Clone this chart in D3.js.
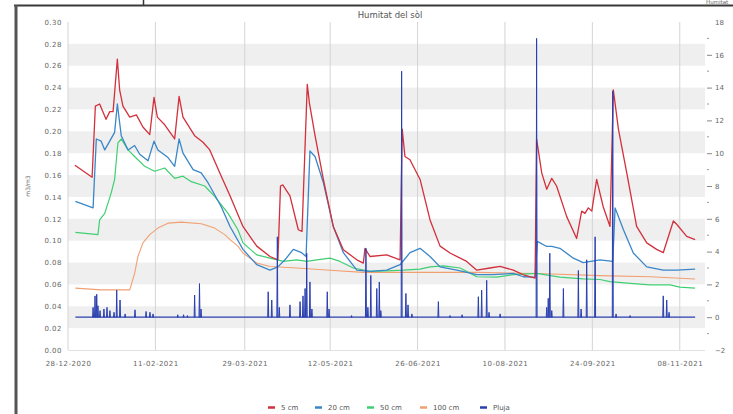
<!DOCTYPE html>
<html>
<head>
<meta charset="utf-8">
<script src="https://cdn.jsdelivr.net/npm/d3@7"></script>
<style>
  body { margin: 0; background: #fff; }
  svg text { font-family: "DejaVu Sans", sans-serif; }
</style>
</head>
<body>
<div id="chart"></div>
<script>
// sizes
var width = 733;
var height = 414;
var plotLeft = 68;
var plotRight = 705;
var plotTop = 22;
var plotBottom = 350;

// data
var xTicks = ["2020-12-28", "2021-02-11", "2021-03-29", "2021-05-12", "2021-06-26", "2021-08-10", "2021-09-24", "2021-11-08"];
var yTicks = [0, 0.02, 0.04, 0.06, 0.08, 0.10, 0.12, 0.14, 0.16, 0.18, 0.20, 0.22, 0.24, 0.26, 0.28, 0.30];
var rainTicks = [-2, 0, 2, 4, 6, 8, 10, 12, 14, 16, 18];

var cm5 = [
  ["2020-12-31 14", 0.169], ["2021-01-09 10", 0.158], ["2021-01-11 02", 0.223], ["2021-01-13 07", 0.225],
  ["2021-01-16 14", 0.211], ["2021-01-18 12", 0.218], ["2021-01-20 05", 0.218], ["2021-01-22 10", 0.266],
  ["2021-01-23 14", 0.238], ["2021-01-25 07", 0.223], ["2021-01-28 19", 0.213], ["2021-02-01 05", 0.215],
  ["2021-02-04 14", 0.204], ["2021-02-08 02", 0.197], ["2021-02-10 07", 0.231], ["2021-02-12 00", 0.213],
  ["2021-02-15 19", 0.206], ["2021-02-20 22", 0.193], ["2021-02-23 05", 0.232], ["2021-02-25 05", 0.213],
  ["2021-03-03 05", 0.196], ["2021-03-07 12", 0.190], ["2021-03-11 00", 0.183], ["2021-03-16 22", 0.159],
  ["2021-03-21 10", 0.141], ["2021-03-28 02", 0.113], ["2021-04-04 05", 0.095], ["2021-04-11 00", 0.0855],
  ["2021-04-15 02", 0.0825], ["2021-04-16 10", 0.150], ["2021-04-17 14", 0.151], ["2021-04-21 07", 0.141],
  ["2021-04-25 14", 0.110], ["2021-04-27 12", 0.1085], ["2021-04-30 05", 0.243], ["2021-05-01 07", 0.226],
  ["2021-05-04 05", 0.196], ["2021-05-08 12", 0.156], ["2021-05-13 14", 0.113], ["2021-05-18 19", 0.0917],
  ["2021-05-25 17", 0.0825], ["2021-05-29 02", 0.0795], ["2021-05-29 22", 0.093], ["2021-06-01 12", 0.0855],
  ["2021-06-10 02", 0.087], ["2021-06-17 00", 0.0825], ["2021-06-18 02", 0.202], ["2021-06-19 12", 0.177],
  ["2021-06-22 02", 0.174], ["2021-06-27 07", 0.156], ["2021-07-02 10", 0.119], ["2021-07-07 14", 0.095],
  ["2021-07-12 17", 0.0887], ["2021-07-21 07", 0.081], ["2021-07-26 12", 0.073], ["2021-08-02 07", 0.075],
  ["2021-08-07 12", 0.0764], ["2021-08-14 07", 0.073], ["2021-08-19 12", 0.0688], ["2021-08-25 12", 0.0657],
  ["2021-08-26 07", 0.193], ["2021-08-28 22", 0.162], ["2021-08-31 12", 0.147], ["2021-09-03 02", 0.157],
  ["2021-09-05 14", 0.150], ["2021-09-10 19", 0.122], ["2021-09-15 22", 0.102], ["2021-09-18 12", 0.127],
  ["2021-09-20 05", 0.125], ["2021-09-21 22", 0.130], ["2021-09-23 17", 0.127], ["2021-09-26 05", 0.156],
  ["2021-09-29 14", 0.131], ["2021-10-03 02", 0.113], ["2021-10-04 19", 0.238], ["2021-10-07 10", 0.202],
  ["2021-10-11 17", 0.162], ["2021-10-16 19", 0.113], ["2021-10-22 00", 0.098], ["2021-10-27 02", 0.092],
  ["2021-10-30 12", 0.089], ["2021-11-04 17", 0.118], ["2021-11-06 10", 0.115], ["2021-11-11 14", 0.104],
  ["2021-11-15 22", 0.101]
];

var cm20 = [
  ["2020-12-31 19", 0.136], ["2021-01-09 22", 0.130], ["2021-01-11 14", 0.193], ["2021-01-14 02", 0.191],
  ["2021-01-15 22", 0.183], ["2021-01-18 12", 0.191], ["2021-01-21 00", 0.199], ["2021-01-22 10", 0.225],
  ["2021-01-24 10", 0.196], ["2021-01-27 22", 0.183], ["2021-01-31 07", 0.187], ["2021-02-02 22", 0.179],
  ["2021-02-07 05", 0.173], ["2021-02-10 07", 0.191], ["2021-02-12 07", 0.183], ["2021-02-17 12", 0.176],
  ["2021-02-20 22", 0.168], ["2021-02-23 05", 0.193], ["2021-02-25 05", 0.180], ["2021-03-02 10", 0.165],
  ["2021-03-06 14", 0.162], ["2021-03-10 02", 0.153], ["2021-03-16 22", 0.131], ["2021-03-21 10", 0.113],
  ["2021-03-28 02", 0.092], ["2021-04-04 05", 0.078], ["2021-04-11 00", 0.073], ["2021-04-15 02", 0.076],
  ["2021-04-18 17", 0.0825], ["2021-04-23 00", 0.092], ["2021-04-27 07", 0.089], ["2021-04-29 14", 0.0855],
  ["2021-05-01 14", 0.182], ["2021-05-04 05", 0.177], ["2021-05-08 12", 0.153], ["2021-05-13 14", 0.113],
  ["2021-05-18 19", 0.089], ["2021-05-25 17", 0.073], ["2021-06-01 12", 0.072], ["2021-06-10 02", 0.073],
  ["2021-06-17 00", 0.078], ["2021-06-22 02", 0.089], ["2021-06-27 07", 0.093], ["2021-07-02 10", 0.0855],
  ["2021-07-07 14", 0.076], ["2021-07-16 05", 0.073], ["2021-07-26 12", 0.069], ["2021-08-04 00", 0.069],
  ["2021-08-14 07", 0.070], ["2021-08-19 12", 0.067], ["2021-08-25 12", 0.0667], ["2021-08-26 17", 0.0993],
  ["2021-08-31 12", 0.0947], ["2021-09-03 02", 0.0947], ["2021-09-07 07", 0.093], ["2021-09-14 05", 0.084],
  ["2021-09-19 07", 0.080], ["2021-09-27 22", 0.0825], ["2021-10-04 12", 0.081], ["2021-10-05 17", 0.130],
  ["2021-10-10 00", 0.110], ["2021-10-15 02", 0.0887], ["2021-10-22 00", 0.076], ["2021-10-30 12", 0.073],
  ["2021-11-06 10", 0.073], ["2021-11-15 22", 0.074]
];

var cm50 = [
  ["2020-12-31 19", 0.1076], ["2021-01-12 10", 0.1055], ["2021-01-13 07", 0.119], ["2021-01-15 22", 0.125],
  ["2021-01-19 07", 0.144], ["2021-01-21 00", 0.156], ["2021-01-22 17", 0.1895], ["2021-01-24 10", 0.193],
  ["2021-01-27 22", 0.183], ["2021-01-31 07", 0.177], ["2021-02-05 12", 0.168], ["2021-02-10 14", 0.1635],
  ["2021-02-15 19", 0.1665], ["2021-02-20 22", 0.157], ["2021-02-25 05", 0.159], ["2021-03-01 12", 0.154],
  ["2021-03-08 10", 0.150], ["2021-03-13 12", 0.1405], ["2021-03-20 10", 0.125], ["2021-03-25 12", 0.110],
  ["2021-03-28 02", 0.098], ["2021-04-04 05", 0.087], ["2021-04-11 00", 0.084], ["2021-04-17 22", 0.081],
  ["2021-04-24 19", 0.0825], ["2021-04-29 22", 0.081], ["2021-05-05 02", 0.0825], ["2021-05-11 22", 0.084],
  ["2021-05-17 02", 0.081], ["2021-05-23 22", 0.075], ["2021-06-01 12", 0.072], ["2021-06-10 02", 0.0724],
  ["2021-06-18 17", 0.073], ["2021-06-27 07", 0.074], ["2021-07-02 10", 0.076], ["2021-07-09 07", 0.077],
  ["2021-07-17 22", 0.075], ["2021-07-26 12", 0.067], ["2021-08-05 19", 0.0667], ["2021-08-14 07", 0.069],
  ["2021-08-26 07", 0.070], ["2021-09-07 07", 0.0667], ["2021-09-19 07", 0.065], ["2021-09-27 22", 0.0645],
  ["2021-10-03 02", 0.0626], ["2021-10-13 10", 0.061], ["2021-10-23 17", 0.0596], ["2021-11-03 00", 0.0596],
  ["2021-11-08 02", 0.0575], ["2021-11-15 22", 0.0566]
];

var cm100 = [
  ["2020-12-31 19", 0.0566], ["2021-01-14 02", 0.055], ["2021-01-28 19", 0.055], ["2021-01-31 07", 0.070],
  ["2021-02-02 00", 0.0855], ["2021-02-04 14", 0.098], ["2021-02-08 02", 0.1055], ["2021-02-12 07", 0.1115],
  ["2021-02-17 12", 0.116], ["2021-02-24 07", 0.117], ["2021-03-06 14", 0.1155], ["2021-03-13 12", 0.1115],
  ["2021-03-18 17", 0.1055], ["2021-03-21 10", 0.101], ["2021-03-25 12", 0.095], ["2021-03-28 02", 0.0887],
  ["2021-04-04 05", 0.0795], ["2021-04-11 00", 0.0764], ["2021-04-24 19", 0.075], ["2021-05-11 22", 0.073],
  ["2021-05-29 02", 0.071], ["2021-07-26 12", 0.071], ["2021-08-26 07", 0.070], ["2021-09-27 22", 0.068],
  ["2021-10-23 17", 0.067], ["2021-11-15 22", 0.065]
];

// rain events (mm, right axis)
var pluja = [
  ["2021-01-09 22", 0.6], ["2021-01-10 22", 1.3], ["2021-01-11 19", 1.4], ["2021-01-12 10", 0.7],
  ["2021-01-13 12", 0.4], ["2021-01-15 12", 0.5], ["2021-01-17 02", 0.6], ["2021-01-18 14", 0.4],
  ["2021-01-20 17", 0.3], ["2021-01-22 02", 1.65], ["2021-01-23 19", 1.05], ["2021-01-26 10", 0.2],
  ["2021-01-31 12", 0.45], ["2021-02-06 05", 0.35], ["2021-02-08 05", 0.3], ["2021-02-09 19", 0.2],
  ["2021-02-22 12", 0.15], ["2021-02-25 12", 0.15], ["2021-02-27 12", 0.1], ["2021-03-03 05", 1.35],
  ["2021-03-05 17", 2.05], ["2021-03-06 12", 0.5],
  ["2021-04-10 02", 1.55], ["2021-04-11 22", 1.05], ["2021-04-14 19", 4.9], ["2021-04-15 19", 0.6],
  ["2021-04-21 07", 0.75], ["2021-04-26 12", 0.95], ["2021-04-28 00", 1.3], ["2021-04-29 02", 1.75],
  ["2021-04-29 22", 3.9], ["2021-05-01 14", 2.15], ["2021-05-02 14", 0.5], ["2021-05-10 12", 1.55],
  ["2021-05-11 10", 0.5], ["2021-05-23 00", 0.1], ["2021-05-30 10", 4.2], ["2021-05-31 10", 0.6],
  ["2021-06-01 22", 2.55], ["2021-06-05 00", 1.75], ["2021-06-06 07", 2.15], ["2021-06-07 02", 0.4],
  ["2021-06-17 19", 15.0], ["2021-06-20 00", 1.45], ["2021-06-21 02", 0.75], ["2021-06-23 02", 0.2],
  ["2021-07-06 17", 0.95], ["2021-07-12 17", 0.1], ["2021-07-18 22", 0.15], ["2021-07-27 07", 1.25],
  ["2021-07-29 00", 1.65], ["2021-07-31 14", 2.25], ["2021-08-01 19", 0.3], ["2021-08-07 12", 0.2],
  ["2021-08-26 07", 17.0], ["2021-08-31 12", 0.6], ["2021-09-01 07", 1.15], ["2021-09-02 02", 3.9],
  ["2021-09-03 02", 0.4], ["2021-09-09 02", 1.75], ["2021-09-16 19", 2.85], ["2021-09-18 05", 0.5],
  ["2021-09-21 02", 3.5], ["2021-09-25 10", 4.9], ["2021-10-04 12", 13.8], ["2021-10-06 05", 0.2],
  ["2021-10-13 10", 0.1], ["2021-10-30 12", 1.3], ["2021-11-01 07", 1.05], ["2021-11-02 12", 0.3]
];

var series = [
  { name: "100 cm", data: cm100, color: "#f2a072", w: 1.1 },
  { name: "50 cm", data: cm50, color: "#3fcf72", w: 1.2 },
  { name: "20 cm", data: cm20, color: "#3a86c8", w: 1.3 },
  { name: "5 cm", data: cm5, color: "#d2303c", w: 1.3 }
];
var legendItems = [
  { name: "5 cm", color: "#d2303c" },
  { name: "20 cm", color: "#3a86c8" },
  { name: "50 cm", color: "#3fcf72" },
  { name: "100 cm", color: "#f2a072" },
  { name: "Pluja", color: "#2a3fae" }
];

var parseHour = d3.utcParse("%Y-%m-%d %H");
var parseDay = d3.utcParse("%Y-%m-%d");
function parse(s) {
  return s.length > 10 ? parseHour(s) : parseDay(s);
}

// canvas
var svg = d3.select("#chart")
  .append("svg")
  .attr("width", width)
  .attr("height", height);

// scales
var xScale = d3.scaleUtc()
  .domain([parseDay("2020-12-28"), parseDay("2021-11-21")])
  .range([plotLeft, plotRight]);
var yScale = d3.scaleLinear().domain([0, 0.30]).range([plotBottom, plotTop]);
var rScale = d3.scaleLinear().domain([-2, 18]).range([plotBottom, plotTop]);

// outer frame
svg.append("line").attr("x1", 14).attr("x2", width).attr("y1", 5.5).attr("y2", 5.5)
  .attr("stroke", "#3a3a3a").attr("stroke-width", 2);
svg.append("line").attr("x1", 16).attr("x2", 16).attr("y1", 5).attr("y2", height)
  .attr("stroke", "#555").attr("stroke-width", 3);
svg.append("line").attr("x1", 143.5).attr("x2", 143.5).attr("y1", 0).attr("y2", 5)
  .attr("stroke", "#333").attr("stroke-width", 1.5);
svg.append("text").attr("x", 706).attr("y", 4).attr("font-size", 5.5).attr("fill", "#666")
  .text("Humitat");

// grey bands
var bandStarts = yTicks.filter(function(v, i) { return i % 2 === 1 && v < 0.30; });
svg.append("g").selectAll("rect")
  .data(bandStarts)
  .enter()
  .append("rect")
  .attr("x", plotLeft)
  .attr("width", plotRight - plotLeft)
  .attr("y", function(d) { return yScale(d + 0.02); })
  .attr("height", function(d) { return yScale(d) - yScale(d + 0.02); })
  .attr("fill", "#efefef");

// vertical grid
svg.append("g").selectAll("line")
  .data(xTicks.map(parseDay))
  .enter()
  .append("line")
  .attr("x1", function(d) { return xScale(d); })
  .attr("x2", function(d) { return xScale(d); })
  .attr("y1", plotTop)
  .attr("y2", plotBottom)
  .attr("stroke", "#d4d4d4")
  .attr("stroke-width", 1);
svg.append("line").attr("x1", plotLeft).attr("x2", plotRight)
  .attr("y1", plotBottom + 0.5).attr("y2", plotBottom + 0.5)
  .attr("stroke", "#e2e2e2");

// x axis labels
var xAxis = d3.axisBottom(xScale)
  .tickValues(xTicks.map(parseDay))
  .tickFormat(d3.utcFormat("%d-%m-%Y"))
  .tickSize(0)
  .tickPadding(11);
var gx = svg.append("g").attr("transform", "translate(0," + plotBottom + ")").call(xAxis);
gx.select(".domain").remove();
gx.selectAll("text").attr("font-size", 7).attr("fill", "#666").attr("letter-spacing", 0.5)
  .attr("font-family", "DejaVu Sans");

// left axis labels
var yAxis = d3.axisLeft(yScale)
  .tickValues(yTicks)
  .tickFormat(d3.format(".2f"))
  .tickSize(0)
  .tickPadding(6);
var gy = svg.append("g").attr("transform", "translate(" + (plotLeft) + ",0)").call(yAxis);
gy.select(".domain").remove();
gy.selectAll("text").attr("font-size", 7).attr("fill", "#666").attr("letter-spacing", 0.5)
  .attr("font-family", "DejaVu Sans");

// right axis
var rAxis = d3.axisRight(rScale)
  .tickValues(rainTicks)
  .tickFormat(d3.format("d"))
  .tickSize(5)
  .tickPadding(3);
var gr = svg.append("g").attr("transform", "translate(" + (plotRight + 2) + ",0)").call(rAxis);
gr.select(".domain").remove();
gr.selectAll("line").attr("stroke", "#888");
gr.selectAll("text").attr("font-size", 7).attr("fill", "#666").attr("font-family", "DejaVu Sans");
gr.selectAll(".tick").filter(function(d) { return d === 18 || d === -2; }).select("line").remove();
var minorTicks = d3.range(-1, 18, 2);
svg.append("g").selectAll("line")
  .data(minorTicks)
  .enter()
  .append("line")
  .attr("x1", plotRight + 2)
  .attr("x2", plotRight + 4)
  .attr("y1", function(d) { return rScale(d); })
  .attr("y2", function(d) { return rScale(d); })
  .attr("stroke", "#999");

// axis title
svg.append("text")
  .attr("transform", "translate(30,186)rotate(-90)")
  .attr("text-anchor", "middle")
  .attr("font-size", 6)
  .attr("fill", "#666")
  .text("m3/m3");

// title
svg.append("text")
  .attr("x", 390)
  .attr("y", 18)
  .attr("text-anchor", "middle")
  .attr("font-size", 8.5)
  .attr("fill", "#555")
  .text("Humitat del sòl");

// soil moisture lines
var line = d3.line()
  .x(function(d) { return xScale(parse(d[0])); })
  .y(function(d) { return yScale(d[1]); });

svg.append("g").selectAll("path")
  .data(series)
  .enter()
  .append("path")
  .attr("d", function(d) { return line(d.data); })
  .attr("fill", "none")
  .attr("stroke", function(d) { return d.color; })
  .attr("stroke-width", function(d) { return d.w; })
  .attr("stroke-linejoin", "round");

// rain: baseline and spikes
var rainColor = "#2a3fae";
svg.append("line")
  .attr("x1", xScale(parse("2020-12-31 19")))
  .attr("x2", xScale(parse("2021-11-15 22")))
  .attr("y1", rScale(0))
  .attr("y2", rScale(0))
  .attr("stroke", rainColor)
  .attr("stroke-width", 1.2);

var halfStep = 6 * 3600 * 1000;
svg.append("g").selectAll("path")
  .data(pluja)
  .enter()
  .append("path")
  .attr("d", function(d) {
    var t = parse(d[0]);
    var x0 = xScale(new Date(t.getTime() - halfStep));
    var x1 = xScale(t);
    var x2 = xScale(new Date(t.getTime() + halfStep));
    return "M" + x0 + "," + rScale(0) + "L" + x1 + "," + rScale(d[1]) + "L" + x2 + "," + rScale(0) + "Z";
  })
  .attr("fill", "#9fb2e6")
  .attr("stroke", rainColor)
  .attr("stroke-width", 1)
  .attr("stroke-linejoin", "round");

// legend
var legendX = [268, 315, 367, 420, 480];
var legend = svg.append("g").selectAll("g")
  .data(legendItems)
  .enter()
  .append("g")
  .attr("transform", function(d, i) { return "translate(" + legendX[i] + ",407)"; });
legend.append("line")
  .attr("x1", 0).attr("x2", 7).attr("y1", 0.5).attr("y2", 0.5)
  .attr("stroke", function(d) { return d.color; })
  .attr("stroke-width", 2.5);
legend.append("text")
  .attr("x", 13)
  .attr("y", 2.5)
  .attr("font-size", 7)
  .attr("fill", "#555")
  .text(function(d) { return d.name; });
</script>
</body>
</html>
